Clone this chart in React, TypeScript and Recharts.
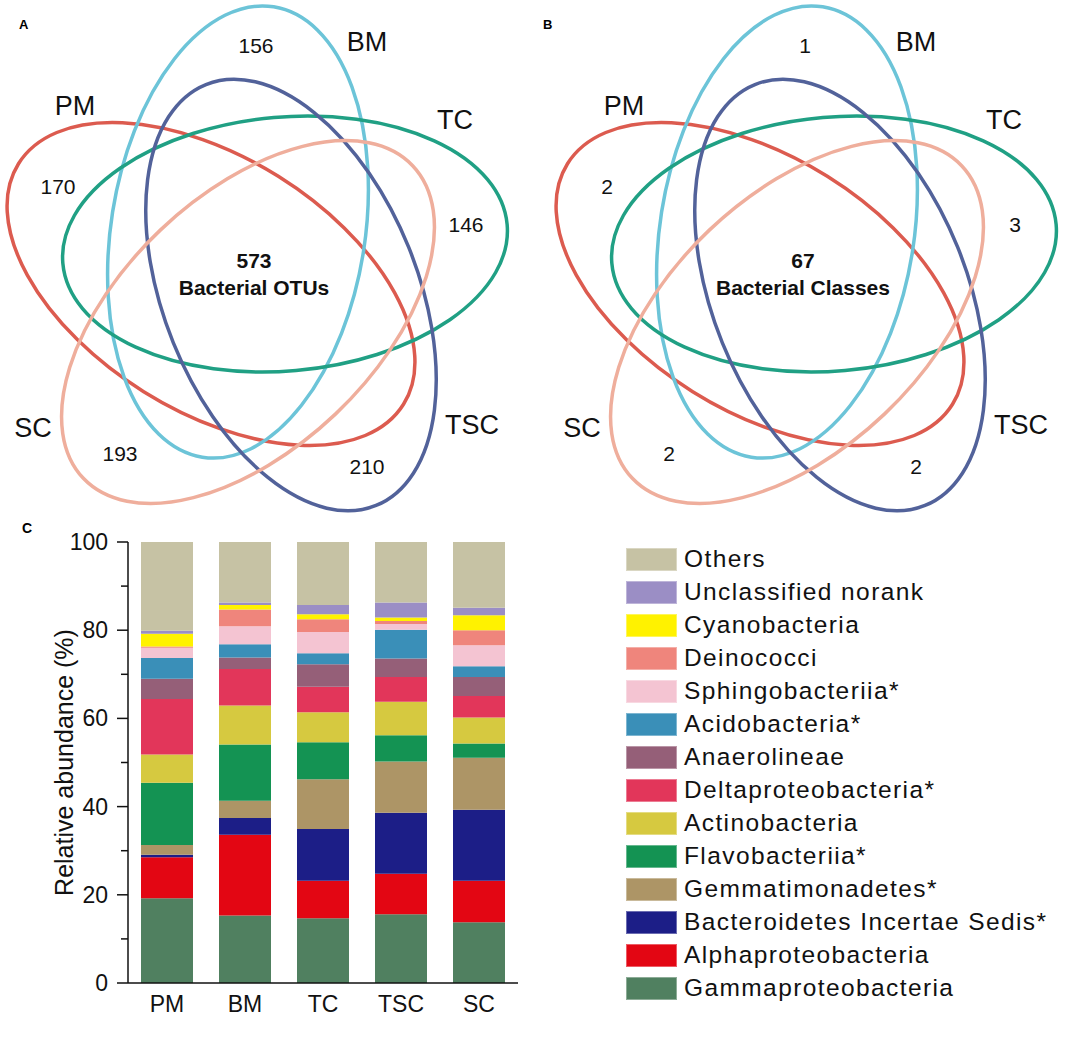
import { Bar, BarChart, Scatter, ScatterChart, XAxis, YAxis } from "recharts"

// sites, same order everywhere
const sites = ["PM", "BM", "TC", "TSC", "SC"]

// venn counts (unique to each site, same order as sites) and shared core
const otuUnique = [170, 156, 146, 210, 193]
const otuShared = 573
const classUnique = [2, 1, 3, 2, 2]
const classShared = 67

// relative abundance (%) per class, same order as sites
const gammaproteobacteria = [19.2, 15.3, 14.7, 15.6, 13.8]
const alphaproteobacteria = [9.3, 18.3, 8.5, 9.2, 9.4]
const bacteroidetesIS = [0.6, 3.8, 11.7, 13.8, 16.1]
const gemmatimonadetes = [2.2, 3.9, 11.3, 11.6, 11.8]
const flavobacteriia = [14.1, 12.8, 8.4, 6.0, 3.2]
const actinobacteria = [6.4, 8.8, 6.8, 7.6, 5.9]
const deltaproteobacteria = [12.6, 8.3, 5.8, 5.6, 4.9]
const anaerolineae = [4.6, 2.6, 5.1, 4.2, 4.3]
const acidobacteria = [4.7, 3.0, 2.5, 6.5, 2.4]
const sphingobacteriia = [2.3, 4.1, 4.8, 1.3, 4.8]
const deinococci = [0.3, 3.8, 2.9, 0.7, 3.4]
const cyanobacteria = [2.9, 1.0, 1.1, 0.8, 3.4]
const unclassified = [0.7, 0.6, 2.1, 3.4, 1.7]
const others = [20.1, 13.7, 14.3, 13.7, 14.9]

const yTicks = [0, 10, 20, 30, 40, 50, 60, 70, 80, 90, 100]

// stacking order, bottom first
const series = [
  { key: "gamma", name: "Gammaproteobacteria", values: gammaproteobacteria, color: "#508060" },
  { key: "alpha", name: "Alphaproteobacteria", values: alphaproteobacteria, color: "#e30613" },
  { key: "bact", name: "Bacteroidetes Incertae Sedis*", values: bacteroidetesIS, color: "#1c1e87" },
  { key: "gemma", name: "Gemmatimonadetes*", values: gemmatimonadetes, color: "#ad9566" },
  { key: "flavo", name: "Flavobacteriia*", values: flavobacteriia, color: "#149353" },
  { key: "actino", name: "Actinobacteria", values: actinobacteria, color: "#d6c940" },
  { key: "delta", name: "Deltaproteobacteria*", values: deltaproteobacteria, color: "#e2365a" },
  { key: "anaero", name: "Anaerolineae", values: anaerolineae, color: "#955f78" },
  { key: "acido", name: "Acidobacteria*", values: acidobacteria, color: "#3a8fb8" },
  { key: "sphingo", name: "Sphingobacteriia*", values: sphingobacteriia, color: "#f4c4d2" },
  { key: "deino", name: "Deinococci", values: deinococci, color: "#ef857c" },
  { key: "cyano", name: "Cyanobacteria", values: cyanobacteria, color: "#fff200" },
  { key: "uncl", name: "Unclassified norank", values: unclassified, color: "#9b8ec5" },
  { key: "others", name: "Others", values: others, color: "#c6c2a4" },
]

const abundanceRows = sites.map((site, i) => {
  const row: Record<string, any> = { site }
  series.forEach((s) => (row[s.key] = s.values[i]))
  return row
})

// venn drawing layout (chart units = px)
const vennLayout: Record<string, any> = {
  PM: { cx: 211, cy: 284, rx: 227, ry: 127, angle: 32, color: "#dc5b4f", nameAt: [75, 106], countAt: [58, 186] },
  BM: { cx: 238, cy: 232, rx: 228, ry: 127, angle: 99, color: "#6cc4d8", nameAt: [367, 42], countAt: [256, 45] },
  TC: { cx: 285, cy: 244, rx: 223, ry: 127, angle: -5, color: "#20a084", nameAt: [455, 120], countAt: [466, 224] },
  TSC: { cx: 291, cy: 295, rx: 227, ry: 127, angle: 68, color: "#52629a", nameAt: [472, 425], countAt: [367, 466] },
  SC: { cx: 248, cy: 322, rx: 227, ry: 127, angle: -43.5, color: "#efae9c", nameAt: [33, 428], countAt: [120, 453] },
}

const font = "Arial, 'Liberation Sans', Helvetica, sans-serif"

function EllipseShape(props: any) {
  const L = vennLayout[props.payload.site]
  const cx = props.cx ?? props.x + (props.width || 0) / 2
  const cy = props.cy ?? props.y + (props.height || 0) / 2
  return (
    <ellipse
      cx={cx}
      cy={cy}
      rx={L.rx}
      ry={L.ry}
      transform={`rotate(${L.angle} ${cx} ${cy})`}
      fill="none"
      stroke={L.color}
      strokeWidth={3.5}
    />
  )
}

function TextShape(props: any) {
  const p = props.payload
  const cx = props.cx ?? props.x + (props.width || 0) / 2
  const cy = props.cy ?? props.y + (props.height || 0) / 2
  return (
    <text x={cx} y={cy} textAnchor="middle" dominantBaseline="central" fontSize={p.size} fontWeight={p.weight} fill="#111" fontFamily={font}>
      {p.text}
    </text>
  )
}

function VennPanel({ counts, shared, caption }: { counts: number[]; shared: number; caption: string }) {
  const ellipses = sites.map((site) => ({ x: vennLayout[site].cx, y: vennLayout[site].cy, site }))
  const labels = [
    ...sites.map((site) => ({ x: vennLayout[site].nameAt[0], y: vennLayout[site].nameAt[1], text: site, size: 27, weight: 400 })),
    ...sites.map((site, i) => ({ x: vennLayout[site].countAt[0], y: vennLayout[site].countAt[1], text: String(counts[i]), size: 21, weight: 400 })),
    { x: 254, y: 260, text: String(shared), size: 21, weight: 700 },
    { x: 254, y: 287, text: caption, size: 21, weight: 700 },
  ]
  return (
    <ScatterChart width={540} height={520} margin={{ top: 0, right: 0, bottom: 0, left: 0 }}>
      <XAxis type="number" dataKey="x" domain={[0, 540]} tickCount={10} allowDataOverflow hide />
      <YAxis type="number" dataKey="y" domain={[0, 520]} tickCount={14} allowDataOverflow reversed hide />
      <Scatter data={ellipses} shape={EllipseShape} isAnimationActive={false} />
      <Scatter data={labels} shape={TextShape} isAnimationActive={false} />
    </ScatterChart>
  )
}

function YTick(props: any) {
  const { x, y, payload } = props
  const major = payload.value % 20 === 0
  return (
    <g>
      <line x1={x - (major ? 11 : 7)} x2={x} y1={y} y2={y} stroke="#111" strokeWidth={1.5} />
      {major && (
        <text x={x - 20} y={y} dy="0.35em" textAnchor="end" fontSize={23} fill="#111" fontFamily={font}>
          {payload.value}
        </text>
      )}
    </g>
  )
}

export default function App() {
  const legendOrder = [...series].reverse()
  return (
    <div style={{ position: "relative", width: 1084, height: 1045, overflow: "hidden", background: "#fff", fontFamily: font }}>
      <style>{"body{margin:0}"}</style>
      <div style={{ position: "absolute", left: 0, top: 0 }}>
        <VennPanel counts={otuUnique} shared={otuShared} caption="Bacterial OTUs" />
      </div>
      <div style={{ position: "absolute", left: 549, top: 0 }}>
        <VennPanel counts={classUnique} shared={classShared} caption="Bacterial Classes" />
      </div>
      <div style={{ position: "absolute", left: 19, top: 18, fontSize: 13, fontWeight: 700, lineHeight: "14px" }}>A</div>
      <div style={{ position: "absolute", left: 543, top: 18, fontSize: 13, fontWeight: 700, lineHeight: "14px" }}>B</div>
      <div style={{ position: "absolute", left: 22, top: 521, fontSize: 14, fontWeight: 700, lineHeight: "15px" }}>C</div>

      <div style={{ position: "absolute", left: 0, top: 500 }}>
        <BarChart width={530} height={545} data={abundanceRows} margin={{ top: 42, right: 12, left: 0, bottom: 0 }} barSize={52}>
          <XAxis
            dataKey="site"
            height={62}
            tickLine={false}
            tickSize={0}
            tickMargin={13}
            axisLine={{ stroke: "#111", strokeWidth: 1.5 }}
            tick={{ fontSize: 23, fill: "#111", fontFamily: font }}
          />
          <YAxis
            width={128}
            domain={[0, 100]}
            ticks={yTicks}
            interval={0}
            tickLine={false}
            tickSize={0}
            tickMargin={0}
            axisLine={{ stroke: "#111", strokeWidth: 1.5 }}
            tick={YTick}
            label={{ value: "Relative abundance (%)", angle: -90, position: "center", fontSize: 25, fill: "#111", fontFamily: font }}
          />
          {series.map((s) => (
            <Bar key={s.key} dataKey={s.key} name={s.name} stackId="a" fill={s.color} isAnimationActive={false} />
          ))}
        </BarChart>
      </div>

      {legendOrder.map((s, i) => (
        <div
          key={s.key}
          style={{ position: "absolute", left: 626, top: 543 + i * 33, height: 32, display: "flex", alignItems: "center", whiteSpace: "nowrap" }}
        >
          <div style={{ width: 51, height: 23, background: s.color, boxShadow: "inset 0 0 0 1px rgba(255,255,255,0.35)" }} />
          <span style={{ marginLeft: 7, fontSize: 24.5, letterSpacing: 1.4, color: "#111" }}>{s.name}</span>
        </div>
      ))}
    </div>
  )
}
